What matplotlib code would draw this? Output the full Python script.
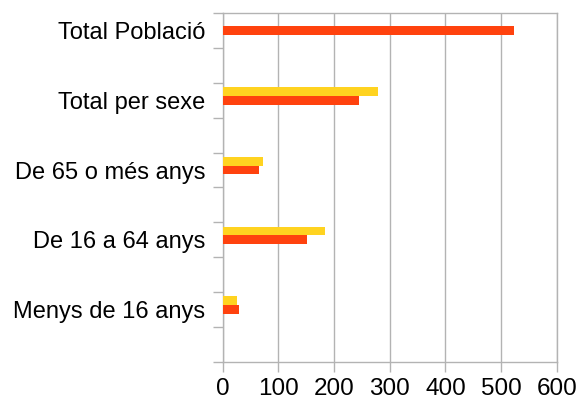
import matplotlib
matplotlib.use("Agg")
import matplotlib.pyplot as plt
import numpy as np

plt.rcParams['font.family'] = ['Liberation Sans', 'DejaVu Sans']

# categories, top to bottom (empty slots in between, as in the original chart)
categories = ['Total Població', 'Total per sexe', 'De 65 o més anys',
              'De 16 a 64 anys', 'Menys de 16 anys']
yellow_vals = [0, 279, 72, 183, 26]
red_vals = [523, 245, 65, 151, 30]
x_ticks = [0, 100, 200, 300, 400, 500, 600]

grid_col = '#b3b3b3'
yellow = '#ffd320'
red = '#ff420e'

fig = plt.figure(figsize=(5.77, 4.03), dpi=100)
ax = fig.add_axes([0.386, 0.1025, 0.579, 0.8645])

slots = np.arange(len(categories)) * 2
h = 0.25
ax.barh(slots - h, yellow_vals, height=h, color=yellow, align='center', zorder=3)
ax.barh(slots, red_vals, height=h, color=red, align='center', zorder=3)

ax.set_xlim(0, 600)
ax.set_ylim(9.5, -0.5)
ax.set_xticks(x_ticks)
ax.set_yticks(slots)
ax.set_yticklabels(categories)
ax.set_yticks(np.arange(-0.5, 10, 1), minor=True)

ax.tick_params(axis='y', which='major', length=0, pad=12.5, labelsize=17, colors='black')
ax.tick_params(axis='y', which='minor', length=7, width=1, color=grid_col, direction='out')
ax.tick_params(axis='x', length=7, width=1, color=grid_col, pad=4.5, labelsize=17.5, labelcolor='black')

ax.grid(axis='x', color=grid_col, linewidth=1, zorder=0)
for s in ax.spines.values():
    s.set_color(grid_col)
    s.set_linewidth(1)

fig.savefig('out.png', dpi=100)
